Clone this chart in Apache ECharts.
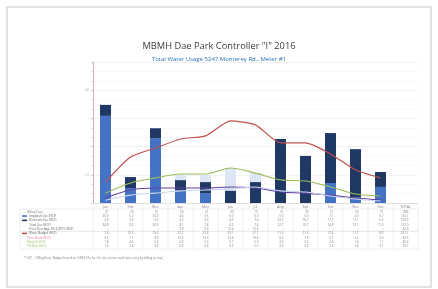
<!DOCTYPE html>
<html>
<head>
<meta charset="utf-8">
<script src="https://cdn.jsdelivr.net/npm/echarts@6/dist/echarts.min.js"></script>
<style>
  html, body { margin: 0; padding: 0; background: #fff; }
  #chart { width: 438px; height: 289px; }
</style>
</head>
<body>
<div id="chart"></div>
<script>
// months + empty TOTAL column
var months = ['Jan', 'Feb', 'Mar', 'Apr', 'May', 'Jun', 'Jul', 'Aug', 'Sep', 'Oct', 'Nov', 'Dec', 'TOTAL'];
var yLabels = [10, 40];

// bars (stacked)
var irrigation = [30.9, 5.3, 23.0, 4.6, 3.5, 0, 0, 0, 0, 7.1, 2.0, 5.7];
var domestic = [3.9, 3.9, 3.5, 3.5, 3.9, 4.3, 7.4, 22.7, 16.7, 17.7, 17.1, 5.3];
// light bars behind
var priorAvg = [null, null, null, 9.9, 9.9, 12.4, 10.6, null, null, null, null, null];

// lines
var budget = [7.4, 16.3, 19.5, 22.7, 23.8, 29.1, 27.7, 21.3, 21.3, 17.4, 11.7, 8.9];
var plantNeed = [3.5, 7.1, 8.9, 10.3, 10.3, 12.4, 10.6, 8.2, 7.8, 5.7, 3.2, 2.5];
var rainfall = [1.8, 4.6, 5.3, 5.3, 5.3, 5.7, 5.3, 3.9, 3.5, 2.8, 1.8, 1.1];
var effRain = [1.0, 2.8, 3.5, 4.3, 4.6, 5.0, 5.7, 4.3, 3.9, 2.5, 1.4, 0.7];

var days = [31, 29, 31, 30, 31, 30, 31, 31, 30, 31, 30, 31];

var chart = echarts.init(document.getElementById('chart'));

var option = {
  animation: false,
  title: [{
    text: 'MBMH Dae Park Controller "I" 2016',
    left: 'center', top: 37,
    textStyle: { fontFamily: 'Open Sans', fontSize: 9.3, fontWeight: 'normal', color: '#3a3a3a' }
  }, {
    text: 'Total Water Usage 5247 Monterey Rd., Meter #1',
    left: 'center', top: 51,
    textStyle: { fontFamily: 'Open Sans', fontSize: 6, fontWeight: 'normal', color: '#2e75b6' }
  }],
  grid: { left: 93, right: 20, top: 62, bottom: 86 },
  xAxis: {
    type: 'category',
    data: months,
    axisLine: { lineStyle: { color: '#d0d0d0', width: 0.6 } },
    axisTick: { show: false },
    axisLabel: { fontSize: 3.5, color: '#808080', margin: 2, fontFamily: 'Open Sans' }
  },
  yAxis: {
    type: 'value',
    min: 0, max: 50, interval: 10,
    axisLine: { show: true, lineStyle: { color: '#c8a2a2', width: 0.8 } },
    axisTick: { show: true, length: 2, lineStyle: { color: '#c8a2a2', width: 0.6 } },
    minorTick: { show: true, splitNumber: 3, length: 1.5, lineStyle: { color: '#c8a2a2', width: 0.5 } },
    splitLine: { lineStyle: { color: '#e4e4e4', width: 0.5 } },
    minorSplitLine: { show: true, lineStyle: { color: '#f0f0f0', width: 0.5 } },
    axisLabel: {
      fontSize: 4, color: '#c0c0c0', margin: 4,
      formatter: function (v) { return yLabels.indexOf(v) >= 0 ? v : ''; }
    }
  },
  series: [
    { name: 'Prior Avg', type: 'bar', data: priorAvg, barWidth: 11, barGap: '-100%',
      itemStyle: { color: '#dce6f4' } },
    { name: 'Irrigation', type: 'bar', stack: 'use', data: irrigation, barWidth: 11, barGap: '-100%',
      itemStyle: { color: '#4472c4' } },
    { name: 'Domestic', type: 'bar', stack: 'use', data: domestic, barWidth: 11, barGap: '-100%',
      itemStyle: { color: '#1f3864' } },
    { name: 'Budget', type: 'line', data: budget, smooth: 0.2, showSymbol: false,
      lineStyle: { color: '#c0504d', width: 1.2 } },
    { name: 'Plant Need', type: 'line', data: plantNeed, smooth: 0.3, showSymbol: false,
      lineStyle: { color: '#9bbb59', width: 1.1 } },
    { name: 'Rainfall', type: 'line', data: rainfall, smooth: 0.3, showSymbol: false,
      lineStyle: { color: '#6040a0', width: 1.1 } },
    { name: 'Eff. Rain', type: 'line', data: effRain, smooth: 0.3, showSymbol: false,
      lineStyle: { color: '#c9d6f0', width: 1.1 } }
  ]
};
chart.setOption(option);

// ---- data table under the chart ----
function sum(a) { var s = 0; a.forEach(function (v) { s += (v || 0); }); return s; }
function fmt(v) { return v == null ? '-' : (Math.round(v * 10) / 10).toFixed(1); }

var totalUse = irrigation.map(function (v, i) { return v + domestic[i]; });
var rows = [
  { label: 'Billing Days', color: '#7f7f7f', marker: null, vals: days, dec: false },
  { label: 'Irrigation Use (HCF)', color: '#595959', marker: '#4472c4', vals: irrigation },
  { label: 'Domestic Use (HCF)', color: '#595959', marker: '#1f3864', vals: domestic },
  { label: '   Total Use (HCF)', color: '#595959', marker: null, vals: totalUse },
  { label: '   Prior Year Avg. 2013-2015 (HCF)', color: '#595959', marker: null, vals: priorAvg },
  { label: 'Water Budget (HCF)', color: '#595959', marker: '#c0504d', vals: budget },
  { label: 'Plant Need (HCF)', color: '#e07b91', marker: null, vals: plantNeed },
  { label: 'Rainfall (HCF)', color: '#9bbb59', marker: null, vals: rainfall },
  { label: 'Eff. Rain (HCF)', color: '#9bbb59', marker: null, vals: effRain }
];

var tblLeft = 20, tblRight = 418, tblTop = 209, rowH = 4.35;
var tblBottom = tblTop + rowH * rows.length + 1;
var g = [];
var lineCol = '#dedede';

g.push({ type: 'rect', shape: { x: 7, y: 7, width: 424, height: 280 },
  style: { fill: 'none', stroke: '#d9d9d9', lineWidth: 1.5 }, z: 0 });
g.push({ type: 'rect', shape: { x: tblLeft, y: tblTop, width: tblRight - tblLeft, height: tblBottom - tblTop },
  style: { fill: 'none', stroke: lineCol, lineWidth: 0.5 } });
g.push({ type: 'line', shape: { x1: tblLeft, y1: tblTop + rowH * 5 + 0.5, x2: tblRight, y2: tblTop + rowH * 5 + 0.5 },
  style: { stroke: '#c8c8c8', lineWidth: 0.5 } });

var cellW = chart.convertToPixel({ xAxisIndex: 0 }, 'Feb') - chart.convertToPixel({ xAxisIndex: 0 }, 'Jan');
months.forEach(function (m, i) {
  var cx = chart.convertToPixel({ xAxisIndex: 0 }, m);
  var bx = cx - cellW / 2;
  g.push({ type: 'line', shape: { x1: bx, y1: tblTop - 4, x2: bx, y2: tblBottom },
    style: { stroke: lineCol, lineWidth: 0.5 } });
  rows.forEach(function (r, j) {
    var v = i < 12 ? r.vals[i] : sum(r.vals);
    var txt = r.dec === false ? String(v) : fmt(v);
    g.push({ type: 'text', style: {
      text: txt, x: cx + 3, y: tblTop + rowH * (j + 0.5) + 0.5,
      fontSize: 3, fontFamily: 'Open Sans', fill: '#7f7f7f',
      align: 'right', verticalAlign: 'middle', textAlign: 'right', textVerticalAlign: 'middle'
    } });
  });
});

rows.forEach(function (r, j) {
  var y = tblTop + rowH * (j + 0.5) + 0.5;
  var tx = 27;
  if (r.marker) {
    g.push({ type: 'rect', shape: { x: 22, y: y - 0.8, width: 5, height: 1.6 }, style: { fill: r.marker } });
    tx = 29;
  }
  g.push({ type: 'text', style: {
    text: r.label, x: tx, y: y, fontSize: 3, fontFamily: 'Open Sans', fill: r.color,
    align: 'left', verticalAlign: 'middle', textAlign: 'left', textVerticalAlign: 'middle'
  } });
});

g.push({ type: 'text', style: {
  text: '* HCF = 748 gallons. Budget based on CIMIS ETo for the site; meter read dates vary by billing period.',
  x: 24, y: 258, fontSize: 3, fontFamily: 'Open Sans', fill: '#7f7f7f',
  align: 'left', verticalAlign: 'middle', textAlign: 'left', textVerticalAlign: 'middle'
} });

chart.setOption({ graphic: { elements: g } });
</script>
</body>
</html>
